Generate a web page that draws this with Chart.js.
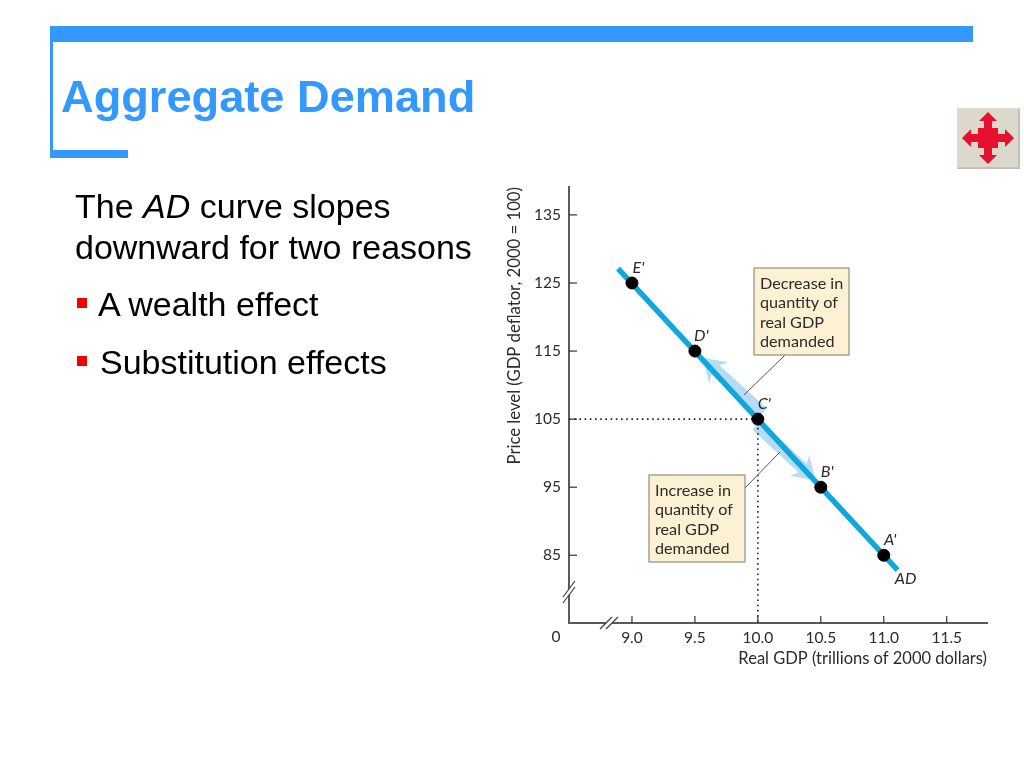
<!DOCTYPE html>
<html>
<head>
<meta charset="utf-8">
<title>Aggregate Demand</title>
<script src="https://cdn.jsdelivr.net/npm/chart.js@4"></script>
<style>
  html, body { margin: 0; padding: 0; background: #fff; }
  #slide { position: relative; width: 1024px; height: 768px; overflow: hidden; font-family: "Liberation Sans", Arial, sans-serif; }
  #myChart { position: absolute; left: 0; top: 0; }
  .bar { position: absolute; background: #3399ff; }
  .line { position: absolute; font-size: 34px; line-height: 40px; color: #000; white-space: nowrap; }
  .bullet { position: absolute; left: 77px; width: 10px; height: 10px; background: #f00000; }
  #title { position: absolute; left: 61px; top: 71px; font-size: 45.2px; line-height: 52px; font-weight: bold; color: #3399ff; white-space: nowrap; }
  #icon { position: absolute; left: 957px; top: 108px; }
</style>
</head>
<body>
<div id="slide">
  <canvas id="myChart" width="1024" height="768"></canvas>
  <div class="bar" style="left:50px;top:26px;width:923px;height:16px"></div>
  <div class="bar" style="left:50px;top:42px;width:3px;height:116px"></div>
  <div class="bar" style="left:50px;top:150px;width:78px;height:8px"></div>
  <div id="title">Aggregate Demand</div>
  <div class="line" style="left:75px;top:186px">The <i>AD</i> curve slopes</div>
  <div class="line" style="left:75px;top:227px">downward for two reasons</div>
  <div class="bullet" style="top:298px"></div>
  <div class="line" style="left:98px;top:284px">A wealth effect</div>
  <div class="bullet" style="top:356px"></div>
  <div class="line" style="left:100px;top:342px">Substitution effects</div>
  <svg id="icon" width="63" height="61" viewBox="0 0 63 61">
    <rect x="0" y="0" width="63" height="61" fill="#dcd9cc"/>
    <path d="M63 0V61H0l2-2H61V2z" fill="#c4c1b4"/>
    <path fill="#e8112d" d="M31 4l9 9h-5v7h6v6h7v-5l9 9-9 9v-5h-7v6h-6v7h5l-9 9-9-9h5v-7h-6v-6h-7v5l-9-9 9-9v5h7v-6h6v-7h-5z"/>
  </svg>
</div>
<script>
// AD 曲線資料
const adLineGdp = [8.89, 11.11];
const adLinePrice = [127.1, 82.8];

const pointGdp = [11.0, 10.5, 10.0, 9.5, 9.0];
const pointPrice = [85, 95, 105, 115, 125];
const pointNames = ["A'", "B'", "C'", "D'", "E'"];

// C' 的虛線
const guideGdp = [8.5, 10.0, 10.0];
const guidePrice = [105, 105, 75];

// 刻度
const xTickValues = [9.0, 9.5, 10.0, 10.5, 11.0, 11.5];
const yTickValues = [85, 95, 105, 115, 125, 135];

// 淺藍箭頭 (起點 → 終點)
const decreaseArrowGdp = [10.04, 9.56];
const decreaseArrowPrice = [105.9, 114.0];
const increaseArrowGdp = [9.99, 10.46];
const increaseArrowPrice = [104.1, 96.0];

const decreaseText = ['Decrease in', 'quantity of', 'real GDP', 'demanded'];
const increaseText = ['Increase in', 'quantity of', 'real GDP', 'demanded'];

const labelFont = '16.2px Lato, sans-serif';
const axisColor = '#5a5a5a';
const textColor = '#2b2b2b';

function toPairs(xs, ys) {
    return xs.map((x, i) => ({ x: x, y: ys[i] }));
}

// 函式：畫淺藍色箭頭
function drawArrow(ctx, x0, y0, x1, y1) {
    const angle = Math.atan2(y1 - y0, x1 - x0);
    const len = Math.hypot(x1 - x0, y1 - y0);
    ctx.save();
    ctx.translate(x0, y0);
    ctx.rotate(angle);
    ctx.fillStyle = '#b6dcf5';
    ctx.beginPath();
    ctx.moveTo(0, -6);
    ctx.lineTo(len - 18, -6);
    ctx.lineTo(len - 22, -14);
    ctx.lineTo(len, 0);
    ctx.lineTo(len - 22, 14);
    ctx.lineTo(len - 18, 6);
    ctx.lineTo(0, 6);
    ctx.closePath();
    ctx.fill();
    ctx.restore();
}

// 函式：畫說明方塊
function drawCallout(ctx, left, top, right, bottom, lines) {
    ctx.fillStyle = '#fdf1d3';
    ctx.strokeStyle = '#8f8f82';
    ctx.lineWidth = 1.2;
    ctx.fillRect(left, top, right - left, bottom - top);
    ctx.strokeRect(left, top, right - left, bottom - top);
    ctx.fillStyle = textColor;
    ctx.font = labelFont;
    ctx.textAlign = 'left';
    ctx.textBaseline = 'alphabetic';
    lines.forEach((t, i) => ctx.fillText(t, left + 6, top + 21 + i * 19.4));
}

function drawSegment(ctx, x0, y0, x1, y1) {
    ctx.beginPath();
    ctx.moveTo(x0, y0);
    ctx.lineTo(x1, y1);
    ctx.stroke();
}

const slidePlugin = {
    id: 'slidePlugin',
    beforeDatasetsDraw(chart) {
        const { ctx, scales: { x, y } } = chart;
        ctx.save();
        drawArrow(ctx, x.getPixelForValue(decreaseArrowGdp[0]), y.getPixelForValue(decreaseArrowPrice[0]),
            x.getPixelForValue(decreaseArrowGdp[1]), y.getPixelForValue(decreaseArrowPrice[1]));
        drawArrow(ctx, x.getPixelForValue(increaseArrowGdp[0]), y.getPixelForValue(increaseArrowPrice[0]),
            x.getPixelForValue(increaseArrowGdp[1]), y.getPixelForValue(increaseArrowPrice[1]));
        ctx.restore();
    },
    afterDatasetsDraw(chart) {
        const { ctx, chartArea, scales: { x, y } } = chart;
        ctx.save();

        // 刻度線畫在座標軸內側
        ctx.strokeStyle = '#333';
        ctx.lineWidth = 1.2;
        xTickValues.forEach(v => {
            const px = x.getPixelForValue(v);
            drawSegment(ctx, px, chartArea.bottom, px, chartArea.bottom - 7);
        });
        yTickValues.forEach(v => {
            const py = y.getPixelForValue(v);
            drawSegment(ctx, chartArea.left, py, chartArea.left + 8, py);
        });

        // 座標軸斷點
        ctx.fillStyle = '#fff';
        ctx.beginPath();
        ctx.moveTo(563, 597); ctx.lineTo(575, 581); ctx.lineTo(575, 587); ctx.lineTo(563, 603);
        ctx.closePath();
        ctx.fill();
        ctx.beginPath();
        ctx.moveTo(600, 629); ctx.lineTo(612, 617); ctx.lineTo(618, 617); ctx.lineTo(606, 629);
        ctx.closePath();
        ctx.fill();
        ctx.strokeStyle = '#444';
        ctx.lineWidth = 1.2;
        drawSegment(ctx, 563, 597, 575, 581);
        drawSegment(ctx, 563, 603, 575, 587);
        drawSegment(ctx, 600, 629, 612, 617);
        drawSegment(ctx, 606, 629, 618, 617);

        // 原點的 0
        ctx.fillStyle = textColor;
        ctx.font = '15.5px Lato, sans-serif';
        ctx.textAlign = 'center';
        ctx.textBaseline = 'middle';
        ctx.fillText('0', chartArea.left - 13, 637);

        // 指引線與說明方塊
        ctx.strokeStyle = '#55554d';
        ctx.lineWidth = 1;
        drawSegment(ctx, 785, 355, 744, 395);
        drawSegment(ctx, 745, 488, 780, 452);
        drawCallout(ctx, 754, 268, 849, 355, decreaseText);
        drawCallout(ctx, 649, 475, 745, 562, increaseText);

        // 點的名稱
        ctx.fillStyle = textColor;
        ctx.font = 'italic ' + labelFont;
        ctx.textAlign = 'center';
        ctx.textBaseline = 'middle';
        pointNames.forEach((name, i) => {
            ctx.fillText(name, x.getPixelForValue(pointGdp[i]) + 6.5, y.getPixelForValue(pointPrice[i]) - 15);
        });
        ctx.fillText('AD', x.getPixelForValue(adLineGdp[1]) + 8, y.getPixelForValue(adLinePrice[1]) + 9);
        ctx.restore();
    }
};

const ctx = document.getElementById('myChart').getContext('2d');
const myChart = new Chart(ctx, {
    type: 'scatter',
    data: {
        datasets: [
            {
                label: 'Points',
                data: toPairs(pointGdp, pointPrice),
                backgroundColor: '#000',
                borderColor: '#000',
                pointRadius: 6,
                order: 1
            },
            {
                label: 'AD',
                data: toPairs(adLineGdp, adLinePrice),
                showLine: true,
                borderColor: '#0fa8dc',
                borderWidth: 5.5,
                borderCapStyle: 'butt',
                pointRadius: 0,
                order: 2
            },
            {
                label: 'Guide',
                data: toPairs(guideGdp, guidePrice),
                showLine: true,
                borderColor: '#222',
                borderWidth: 1.6,
                borderDash: [1.6, 3.6],
                pointRadius: 0,
                order: 3
            }
        ]
    },
    plugins: [slidePlugin],
    options: {
        responsive: false,
        animation: false,
        devicePixelRatio: 1,
        layout: { padding: { left: 505, right: 37, top: 187, bottom: 99 } },
        plugins: { legend: { display: false }, tooltip: { enabled: false } },
        scales: {
            x: {
                type: 'linear',
                min: 8.5,
                max: 11.82,
                afterBuildTicks: axis => { axis.ticks = xTickValues.map(v => ({ value: v })); },
                afterFit: axis => { axis.height = 46; },
                grid: { display: false, drawTicks: false },
                border: { display: true, color: axisColor, width: 2 },
                ticks: {
                    autoSkip: false,
                    maxRotation: 0,
                    padding: 6,
                    color: textColor,
                    font: { family: 'Lato, sans-serif', size: 15.5 },
                    callback: v => v.toFixed(1)
                },
                title: {
                    display: true,
                    text: 'Real GDP (trillions of 2000 dollars)',
                    align: 'end',
                    color: textColor,
                    padding: { top: 0, bottom: 0 },
                    font: { family: 'Lato, sans-serif', size: 16.5 }
                }
            },
            y: {
                type: 'linear',
                min: 75.05,
                max: 139.1,
                afterBuildTicks: axis => { axis.ticks = yTickValues.map(v => ({ value: v })); },
                afterFit: axis => { axis.width = 64; },
                grid: { display: false, drawTicks: false },
                border: { display: true, color: axisColor, width: 2 },
                ticks: {
                    autoSkip: false,
                    padding: 8,
                    color: textColor,
                    font: { family: 'Lato, sans-serif', size: 15.5 }
                },
                title: {
                    display: true,
                    text: 'Price level (GDP deflator, 2000 = 100)',
                    align: 'end',
                    color: textColor,
                    padding: { top: 0, bottom: 0 },
                    font: { family: 'Lato, sans-serif', size: 16.7 }
                }
            }
        }
    }
});
</script>
</body>
</html>
